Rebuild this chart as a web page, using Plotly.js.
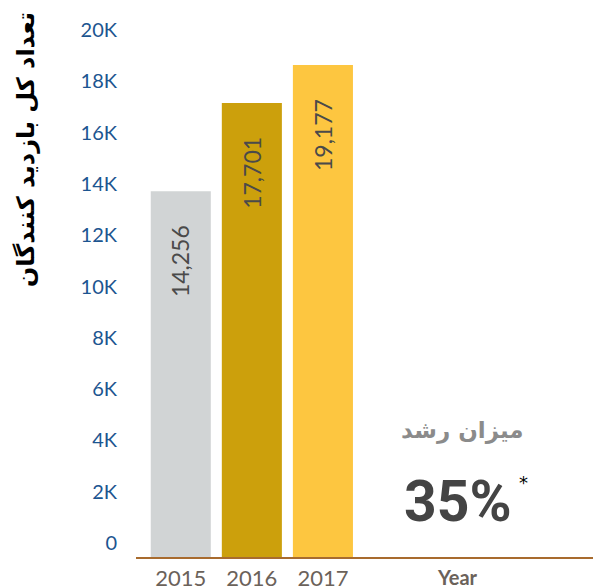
<!DOCTYPE html>
<html>
<head>
<meta charset="utf-8">
<script src="https://cdn.plot.ly/plotly-3.0.1.min.js"></script>
<style>html,body{margin:0;padding:0;background:#fff;}#chart{width:593px;height:588px;}</style>
</head>
<body>
<div id="chart"></div>
<script>
var years = [2015, 2016, 2017];
var visitors = [14256, 17701, 19177];
var valueLabels = ["14,256", "17,701", "19,177"];
var barColors = ["#d1d4d5", "#cca00c", "#fdc640"];
var yTickVals = [0, 2000, 4000, 6000, 8000, 10000, 12000, 14000, 16000, 18000, 20000];
var yTickText = ["0", "2K", "4K", "6K", "8K", "10K", "12K", "14K", "16K", "18K", "20K"];
var yTitle = "تعداد کل بازدید کنندگان";
var growthTitle = "میزان رشد";
var growthValue = "35%";
var xTitle = "Year";

var trace = {
  type: "bar",
  x: years,
  y: visitors,
  width: 0.845,
  marker: {color: barColors},
  hoverinfo: "none"
};

var annotations = years.map(function (yr, i) {
  return {
    x: yr, y: visitors[i], xref: "x", yref: "y",
    text: valueLabels[i], showarrow: false, textangle: -90,
    yanchor: "top", yshift: -32,
    font: {family: "Lato, 'Open Sans', sans-serif", size: 23, color: "#4a4a4a"}
  };
});
annotations.push({
  xref: "paper", yref: "paper", x: -0.24, y: 0.758,
  xanchor: "center", yanchor: "middle",
  text: "<b>" + yTitle + "</b>", showarrow: false, textangle: -90,
  font: {family: "'DejaVu Sans', sans-serif", size: 24, color: "#000"}
});
annotations.push({
  xref: "x", yref: "y", x: 2018.97, y: 4946,
  text: "<b>" + growthTitle + "</b>", showarrow: false,
  font: {family: "'DejaVu Sans', sans-serif", size: 23, color: "#8b8b8b"}
});
annotations.push({
  xref: "x", yref: "y", x: 2018.9, y: 2173,
  text: "<b>" + growthValue + "</b>", showarrow: false,
  font: {family: "Roboto, sans-serif", size: 57, color: "#444444"}
});
annotations.push({
  xref: "x", yref: "y", x: 2019.82, y: 2917,
  text: "*", showarrow: false,
  font: {family: "'DejaVu Sans', sans-serif", size: 18, color: "#000"}
});
annotations.push({
  xref: "x", yref: "paper", x: 2018.9, y: 0, yanchor: "top", yshift: -6,
  text: "<b>" + xTitle + "</b>", showarrow: false,
  font: {family: "Lato, sans-serif", size: 20, color: "#6b625a"}
});

var layout = {
  width: 593, height: 588,
  margin: {l: 136, r: 0, t: 20, b: 31, pad: 0},
  paper_bgcolor: "#fff", plot_bgcolor: "#fff",
  showlegend: false,
  xaxis: {
    range: [2014.37, 2020.8],
    tickvals: years, ticktext: years.map(String),
    showgrid: false, zeroline: false,
    showline: true, linecolor: "#a86b2e", linewidth: 2,
    ticks: "", ticklabelstandoff: 1,
    tickfont: {family: "Lato, sans-serif", size: 22, color: "#6b625a"}
  },
  yaxis: {
    range: [0, 20936],
    tickvals: yTickVals, ticktext: yTickText,
    showgrid: false, zeroline: false, showline: false,
    ticks: "", ticklabelstandoff: 18, ticklabelshift: -14,
    tickfont: {family: "Lato, sans-serif", size: 20, color: "#1c5590"}
  },
  annotations: annotations
};

Plotly.newPlot("chart", [trace], layout, {staticPlot: true, displayModeBar: false});
</script>
</body>
</html>
